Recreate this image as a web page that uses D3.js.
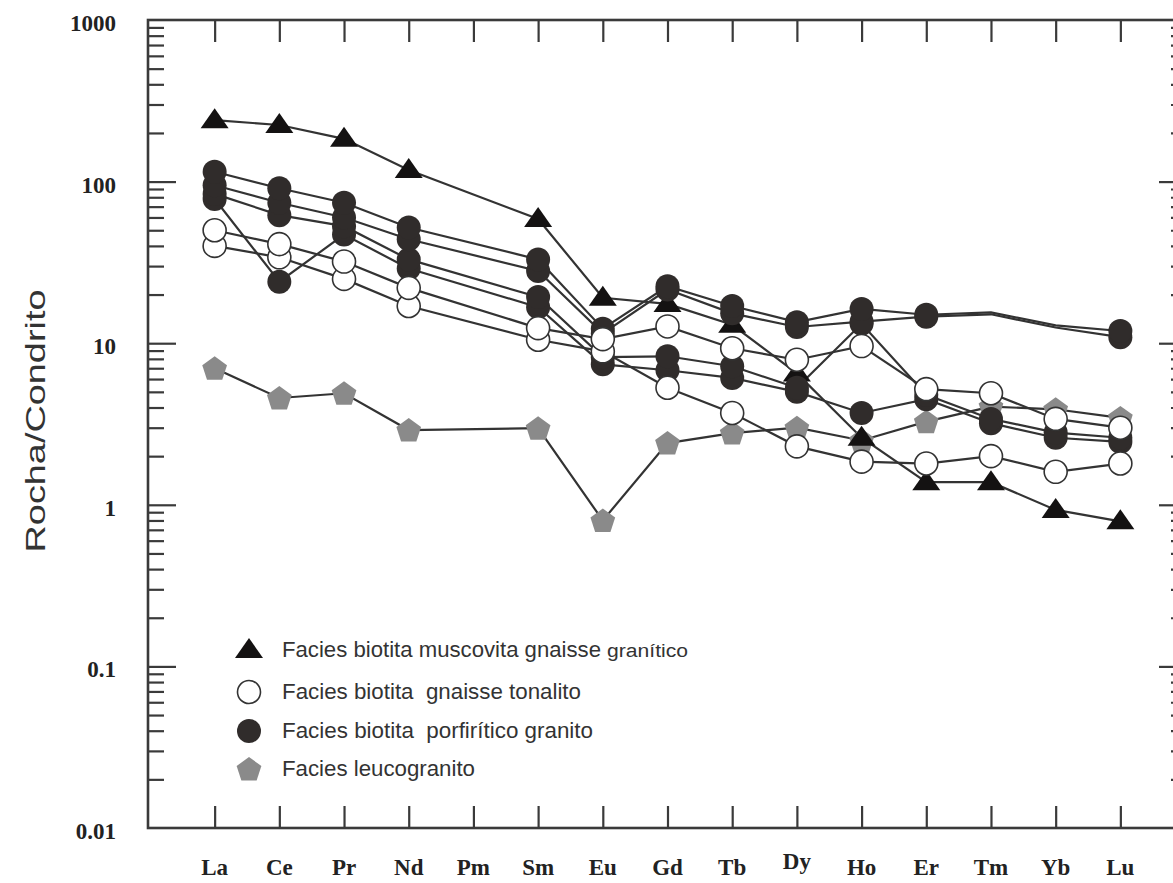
<!DOCTYPE html>
<html>
<head>
<meta charset="utf-8">
<script src="https://cdn.jsdelivr.net/npm/d3@7"></script>
<style>
  body { margin: 0; background: #fff; }
  svg { display: block; }
</style>
</head>
<body>
<svg id="chart"></svg>
<script>
// REE elements (chondrite normalised)
const elements = ["La", "Ce", "Pr", "Nd", "Pm", "Sm", "Eu", "Gd", "Tb", "Dy", "Ho", "Er", "Tm", "Yb", "Lu"];
const yTickValues = [0.01, 0.1, 1, 10, 100, 1000];
const yTickLabels = ["0.01", "0.1", "1", "10", "100", "1000"];

// Facies biotita muscovita gnaisse granítico
const muscovitaGnaisse = [240, 224, 184, 118, null, 58.7, 19.1, 17.5, 13.0, 6.5, 2.6, 1.38, 1.38, 0.93, 0.79];
// Facies biotita gnaisse tonalito
const tonalito1 = [50, 41, 32, 22, null, 12.4, 10.6, 12.7, 9.3, 7.9, 9.6, 5.2, 4.9, 3.4, 3.0];
const tonalito2 = [40, 34, 25, 17, null, 10.5, 8.9, 5.3, 3.7, 2.3, 1.85, 1.8, 2.0, 1.6, 1.8];
// Facies biotita porfirítico granito
const granito1 = [115, 91, 74, 52, null, 33, 12.3, 22.5, 17, 13.5, 16.3, 15.0, 15.5, 12.9, 11.9];
const granito2 = [95, 74, 60, 44, null, 28, 11.5, 21.5, 15.3, 12.6, 13.6, 14.6, 15.1, 12.5, 10.9];
const granito3 = [84, 62, 53, 33, null, 19.3, 8.2, 8.3, 7.2, 5.3, 13.2, 4.8, 3.4, 2.8, 2.6];
const granito4 = [78, 24, 47, 29, null, 16.7, 7.4, 6.8, 6.1, 5.0, 3.7, 4.5, 3.2, 2.6, 2.45];
// the two upper granito samples carry no symbol at Tm and Yb
const granitoNoMarker = ["Tm", "Yb"];
// Facies leucogranito
const leucogranito = [7.0, 4.58, 4.9, 2.9, null, 2.98, 0.80, 2.41, 2.78, 3.0, 2.5, 3.27, 4.05, 3.9, 3.45];

const legendLabels = [
    "Facies biotita muscovita gnaisse",
    "Facies biotita  gnaisse tonalito",
    "Facies biotita  porfirítico granito",
    "Facies leucogranito"
];
const legendSuffix = "granítico";

const WIDTH = 1173, HEIGHT = 883;
const LEFT = 148, RIGHT = 1187, TOP = 20, BOTTOM = 828;
const ink = "#333";

const svg = d3.select("#chart")
    .attr("width", WIDTH)
    .attr("height", HEIGHT);

const x = d3.scalePoint()
    .domain(elements)
    .range([LEFT, RIGHT])
    .padding(1.03);

const y = d3.scaleLog()
    .domain([0.01, 1000])
    .range([BOTTOM, TOP]);

// tick values straight from the log scale
const allTicks = y.ticks().filter(v => v > 0.01 && v < 1000);
const majorTicks = allTicks.filter(v => Math.abs(Math.log10(v) - Math.round(Math.log10(v))) < 1e-9);
const minorTicks = allTicks.filter(v => !majorTicks.includes(v));

function styleAxis(g) {
    g.select(".domain").remove();
    g.selectAll(".tick line").attr("stroke", "#3a3a3a").attr("stroke-width", 2.2);
    g.selectAll(".tick text").remove();
}

// left + right inward ticks
svg.append("g").attr("transform", `translate(${LEFT},0)`)
    .call(d3.axisRight(y).tickValues(minorTicks).tickSize(16)).call(styleAxis);
svg.append("g").attr("transform", `translate(${LEFT},0)`)
    .call(d3.axisRight(y).tickValues(majorTicks).tickSize(28)).call(styleAxis);
svg.append("g").attr("transform", `translate(${RIGHT},0)`)
    .call(d3.axisLeft(y).tickValues(minorTicks).tickSize(16)).call(styleAxis);
svg.append("g").attr("transform", `translate(${RIGHT},0)`)
    .call(d3.axisLeft(y).tickValues(majorTicks).tickSize(28)).call(styleAxis);

// top + bottom inward ticks
svg.append("g").attr("transform", `translate(0,${TOP})`)
    .call(d3.axisBottom(x).tickSize(22)).call(styleAxis);
svg.append("g").attr("transform", `translate(0,${BOTTOM})`)
    .call(d3.axisTop(x).tickSize(22)).call(styleAxis);

// frame
svg.append("rect")
    .attr("x", LEFT).attr("y", TOP)
    .attr("width", RIGHT - LEFT).attr("height", BOTTOM - TOP)
    .attr("fill", "none")
    .attr("stroke", "#3a3a3a")
    .attr("stroke-width", 2.6);

// y tick labels
svg.append("g")
    .selectAll("text")
    .data(yTickValues)
    .join("text")
    .attr("x", 116)
    .attr("y", d => y(d) + 3)
    .attr("dy", "0.35em")
    .attr("text-anchor", "end")
    .attr("font-family", "Liberation Serif, serif")
    .attr("font-weight", "bold")
    .attr("font-size", 23)
    .attr("fill", "#222")
    .text((d, i) => yTickLabels[i]);

// x labels
svg.append("g")
    .selectAll("text")
    .data(elements)
    .join("text")
    .attr("x", d => x(d))
    .attr("y", d => d === "Dy" ? 869 : 875)
    .attr("text-anchor", "middle")
    .attr("font-family", "Liberation Serif, serif")
    .attr("font-weight", "bold")
    .attr("font-size", 23)
    .attr("fill", "#222")
    .text(d => d);

// y axis title
svg.append("text")
    .attr("transform", "translate(45,421) rotate(-90)")
    .attr("text-anchor", "middle")
    .attr("font-family", "Liberation Sans, Arial, sans-serif")
    .attr("font-size", 28)
    .attr("textLength", 263)
    .attr("lengthAdjust", "spacingAndGlyphs")
    .attr("fill", "#333")
    .text("Rocha/Condrito");

// symbols
const trianglePath = "M0,-12L14,8L-14,8Z";
const pentagonPath = d3.line()(d3.range(5).map(i => {
    const a = -Math.PI / 2 + i * 2 * Math.PI / 5;
    return [13 * Math.cos(a), 13 * Math.sin(a) + 1];
})) + "Z";

const series = [
    { values: leucogranito, kind: "pentagon" },
    { values: muscovitaGnaisse, kind: "triangle" },
    { values: granito4, kind: "filled" },
    { values: granito3, kind: "filled" },
    { values: granito2, kind: "filled", skip: granitoNoMarker },
    { values: granito1, kind: "filled", skip: granitoNoMarker },
    { values: tonalito2, kind: "open" },
    { values: tonalito1, kind: "open" }
];

const toPoints = vals => vals.map((v, i) => ({ el: elements[i], v })).filter(d => d.v != null);

const line = d3.line()
    .x(d => x(d.el))
    .y(d => y(d.v));

// all lines first, symbols on top
svg.append("g")
    .selectAll("path")
    .data(series)
    .join("path")
    .attr("d", s => line(toPoints(s.values)))
    .attr("fill", "none")
    .attr("stroke", ink)
    .attr("stroke-width", 2.2);

function drawMarker(g, kind, cx, cy) {
    if (kind === "triangle") {
        g.append("path").attr("d", trianglePath)
            .attr("transform", `translate(${cx},${cy})`)
            .attr("fill", "#141212");
    } else if (kind === "pentagon") {
        g.append("path").attr("d", pentagonPath)
            .attr("transform", `translate(${cx},${cy})`)
            .attr("fill", "#8a8a8a");
    } else if (kind === "filled") {
        g.append("circle").attr("cx", cx).attr("cy", cy).attr("r", 12)
            .attr("fill", "#302c2b");
    } else {
        g.append("circle").attr("cx", cx).attr("cy", cy).attr("r", 11.5)
            .attr("fill", "#fff")
            .attr("stroke", ink)
            .attr("stroke-width", 1.6);
    }
}

const markers = svg.append("g");
series.forEach(s => {
    toPoints(s.values)
        .filter(d => !(s.skip && s.skip.includes(d.el)))
        .forEach(d => drawMarker(markers, s.kind, x(d.el), y(d.v)));
});

// legend
const legendKinds = ["triangle", "open", "filled", "pentagon"];
const legendY = [650, 692, 731, 769];
const legendLen = [319, 299, 311, 193];
const legend = svg.append("g");
legendKinds.forEach((k, i) => {
    drawMarker(legend, k, 249, legendY[i]);
    legend.append("text")
        .attr("x", 282)
        .attr("y", legendY[i] + 7)
        .attr("font-family", "Liberation Sans, Arial, sans-serif")
        .attr("font-size", 22)
        .attr("textLength", legendLen[i])
        .attr("lengthAdjust", "spacingAndGlyphs")
        .attr("fill", "#333")
        .style("white-space", "pre")
        .text(legendLabels[i]);
});
legend.append("text")
    .attr("x", 607)
    .attr("y", legendY[0] + 7)
    .attr("font-family", "Liberation Sans, Arial, sans-serif")
    .attr("font-size", 18)
    .attr("textLength", 81)
    .attr("lengthAdjust", "spacingAndGlyphs")
    .attr("fill", "#333")
    .text(legendSuffix);
</script>
</body>
</html>
